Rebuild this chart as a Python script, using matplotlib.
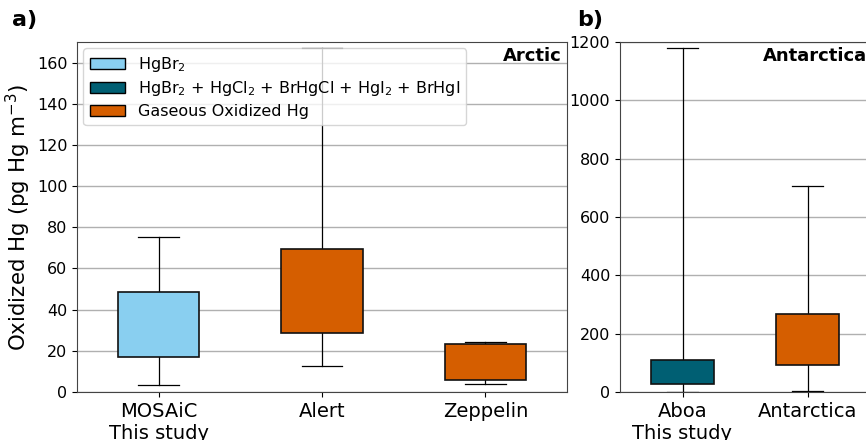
import matplotlib
matplotlib.use("Agg")
import matplotlib.pyplot as plt
from matplotlib.patches import Patch

plt.rcParams["font.family"] = ["DejaVu Sans"]

# panel a (Arctic)
arc_labels = ["MOSAiC\nThis study", "Alert", "Zeppelin"]
arc_low = [3.2, 12.8, 4.0]
arc_q1 = [16.8, 28.6, 6.0]
arc_q3 = [48.8, 69.3, 23.3]
arc_high = [75.2, 167.3, 24.4]
arc_cols = ["#89CFF0", "#D55E00", "#D55E00"]

# panel b (Antarctica)
ant_labels = ["Aboa\nThis study", "Antarctica"]
ant_low = [0.0, 4.8]
ant_q1 = [28.8, 94.0]
ant_q3 = [108.7, 268.8]
ant_high = [1179.0, 706.0]
ant_cols = ["#005F73", "#D55E00"]

legend_labels = ["HgBr$_2$",
                 "HgBr$_2$ + HgCl$_2$ + BrHgCl + HgI$_2$ + BrHgI",
                 "Gaseous Oxidized Hg"]
legend_cols = ["#89CFF0", "#005F73", "#D55E00"]


def stats(lo, q1, q3, hi):
    return [dict(whislo=a, q1=b, med=(b + c) / 2, q3=c, whishi=d, fliers=[])
            for a, b, c, d in zip(lo, q1, q3, hi)]


def draw(ax, st, cols, labels):
    bp = ax.bxp(st, widths=0.5, patch_artist=True, showfliers=False,
                boxprops=dict(edgecolor="#111111", linewidth=1.2),
                whiskerprops=dict(color="black", linewidth=0.9),
                capprops=dict(color="black", linewidth=0.9),
                medianprops=dict(linewidth=0))
    for b, c in zip(bp["boxes"], cols):
        b.set_facecolor(c)
        b.set_zorder(3)
    ax.set_xticks(range(1, len(labels) + 1))
    ax.set_xticklabels(labels, fontsize=14)
    ax.tick_params(axis="y", labelsize=11.5)
    ax.yaxis.grid(True, color="#b0b0b0", linewidth=1)
    ax.set_axisbelow(True)
    for s in ax.spines.values():
        s.set_color("#444444")


fig = plt.figure(figsize=(8.66, 4.4), dpi=100)
ax1 = fig.add_axes([77 / 866, 48 / 440, 490 / 866, 350 / 440])
ax2 = fig.add_axes([620 / 866, 48 / 440, 250 / 866, 350 / 440])

draw(ax1, stats(arc_low, arc_q1, arc_q3, arc_high), arc_cols, arc_labels)
ax1.set_ylim(0, 170)
ax1.set_yticks(range(0, 161, 20))
ax1.set_ylabel("Oxidized Hg (pg Hg m$^{-3}$)", fontsize=15.4)
ax1.yaxis.set_label_coords(-0.09, 0.5)
ax1.text(0.99, 0.985, "Arctic", transform=ax1.transAxes, ha="right", va="top",
         fontsize=13, fontweight="bold")
handles = [Patch(facecolor=c, edgecolor="black") for c in legend_cols]
ax1.legend(handles, legend_labels, loc="upper left", fontsize=11.5,
           handlelength=2.2, borderaxespad=0.4, labelspacing=0.35)

draw(ax2, stats(ant_low, ant_q1, ant_q3, ant_high), ant_cols, ant_labels)
ax2.set_ylim(0, 1200)
ax2.set_yticks(range(0, 1201, 200))
ax2.text(0.99, 0.985, "Antarctica", transform=ax2.transAxes, ha="right", va="top",
         fontsize=13, fontweight="bold")

fig.text(12 / 866, 1 - 10 / 440, "a)", fontsize=16, fontweight="bold", va="top")
fig.text(577 / 866, 1 - 10 / 440, "b)", fontsize=16, fontweight="bold", va="top")

fig.savefig("out.png", dpi=100)
